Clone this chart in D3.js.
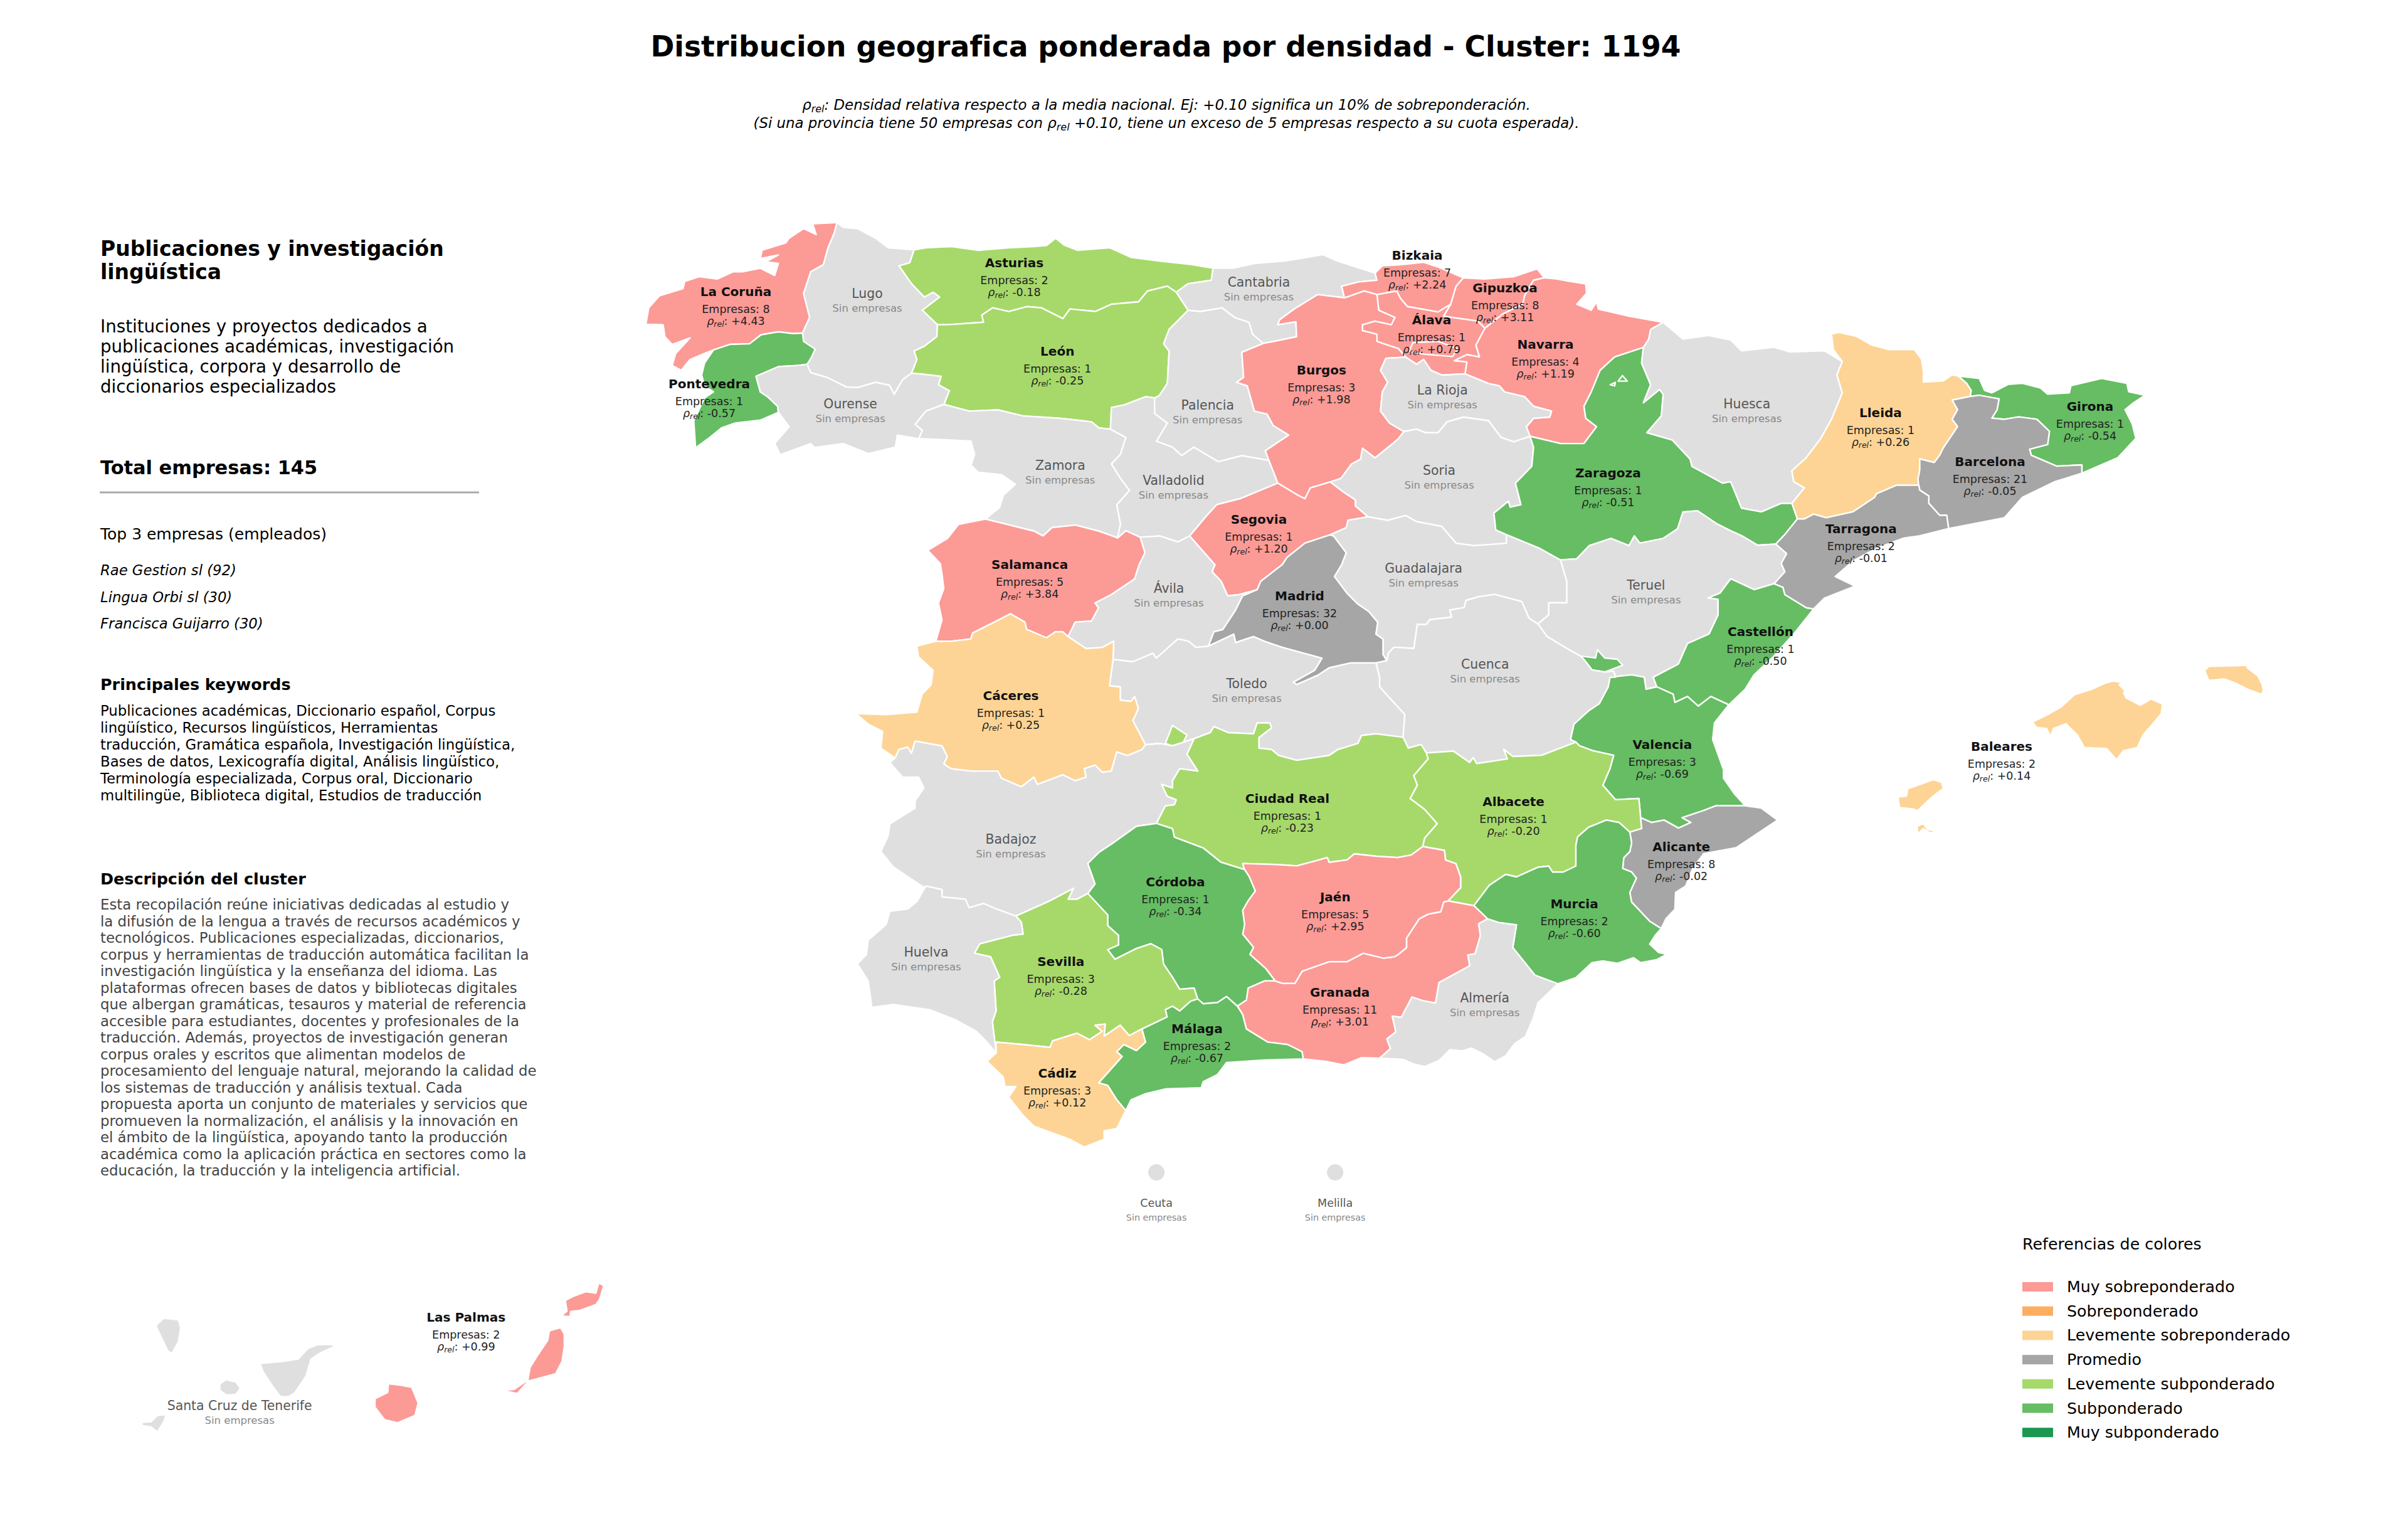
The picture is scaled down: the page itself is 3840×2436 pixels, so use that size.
<!DOCTYPE html>
<html lang="es">
<head>
<meta charset="UTF-8">
<title>Distribucion geografica - Cluster 1194</title>
<style>
  body { margin: 0; background: #fff; }
  svg { display: block; font-family: "DejaVu Sans", sans-serif; }
</style>
</head>
<body>
<script src="https://d3js.org/d3.v7.min.js"></script>
<script>
// province values
const provinces = ["La Coruña","Lugo","Pontevedra","Ourense","Asturias","León","Zamora","Salamanca","Valladolid","Palencia","Cantabria","Bizkaia","Gipuzkoa","Álava","Burgos","Navarra","La Rioja","Soria","Segovia","Ávila","Madrid","Guadalajara","Zaragoza","Huesca","Lleida","Girona","Barcelona","Tarragona","Teruel","Castellón","Valencia","Cuenca","Toledo","Ciudad Real","Badajoz","Cáceres","Albacete","Alicante","Murcia","Almería","Granada","Jaén","Córdoba","Málaga","Sevilla","Cádiz","Huelva","Baleares","Las Palmas","Santa Cruz de Tenerife"];
const companies = [8,null,1,null,2,1,null,5,null,null,null,7,8,1,3,4,null,null,1,null,32,null,1,null,1,1,21,2,null,1,3,null,null,1,null,1,1,8,2,null,11,5,1,2,3,3,null,2,2,null];
const rhoValues = [4.43,null,-0.57,null,-0.18,-0.25,null,3.84,null,null,null,2.24,3.11,0.79,1.98,1.19,null,null,1.20,null,0.00,null,-0.51,null,0.26,-0.54,-0.05,-0.01,null,-0.50,-0.69,null,null,-0.23,null,0.25,-0.20,-0.02,-0.60,null,3.01,2.95,-0.34,-0.67,-0.28,0.12,null,0.14,0.99,null];
// label anchors, lon / lat
const labelLon = [-8.543,-7.437,-8.767,-7.579,-6.200,-5.837,-5.813,-6.070,-4.860,-4.573,-4.142,-2.809,-2.070,-2.688,-3.615,-1.730,-2.597,-2.624,-4.142,-4.899,-3.799,-2.756,-1.203,-0.035,1.090,2.853,2.011,0.926,-0.884,0.080,-0.747,-2.238,-4.244,-3.902,-6.229,-6.229,-1.999,-0.587,-1.487,-2.241,-3.460,-3.499,-4.844,-4.662,-5.808,-5.838,-6.941,2.109,-14.927,-17.184];
const labelLat = [43.211,43.195,42.435,42.265,43.451,42.706,41.750,40.916,41.623,42.253,43.288,43.518,43.239,42.973,42.548,42.766,42.383,41.708,41.296,40.712,40.649,40.883,41.684,42.267,42.191,42.243,41.777,41.213,40.738,40.350,39.400,40.075,39.910,38.944,38.601,39.809,38.919,38.540,38.058,37.270,37.316,38.118,38.244,37.007,37.573,36.634,37.654,39.384,28.902,28.012];

const legendLabels = ["Muy sobreponderado","Sobreponderado","Levemente sobreponderado","Promedio","Levemente subponderado","Subponderado","Muy subponderado"];
const legendColors = ["#fc9a96","#fdae61","#fdd495","#a6a6a6","#a6d96a","#66bd63","#1a9850"];
const rhoBreaks = [-0.75,-0.30,-0.10,0.10,0.30,0.75];

const topCompanies = ["Rae Gestion sl (92)","Lingua Orbi sl (30)","Francisca Guijarro (30)"];
const clusterTitle = ["Publicaciones y investigación","lingüística"];
const clusterSummary = ["Instituciones y proyectos dedicados a","publicaciones académicas, investigación","lingüística, corpora y desarrollo de","diccionarios especializados"];
const keywordLines = ["Publicaciones académicas, Diccionario español, Corpus","lingüístico, Recursos lingüísticos, Herramientas","traducción, Gramática española, Investigación lingüística,","Bases de datos, Lexicografía digital, Análisis lingüístico,","Terminología especializada, Corpus oral, Diccionario","multilingüe, Biblioteca digital, Estudios de traducción"];
const descriptionLines = ["Esta recopilación reúne iniciativas dedicadas al estudio y","la difusión de la lengua a través de recursos académicos y","tecnológicos. Publicaciones especializadas, diccionarios,","corpus y herramientas de traducción automática facilitan la","investigación lingüística y la enseñanza del idioma. Las","plataformas ofrecen bases de datos y bibliotecas digitales","que albergan gramáticas, tesauros y material de referencia","accesible para estudiantes, docentes y profesionales de la","traducción. Además, proyectos de investigación generan","corpus orales y escritos que alimentan modelos de","procesamiento del lenguaje natural, mejorando la calidad de","los sistemas de traducción y análisis textual. Cada","propuesta aporta un conjunto de materiales y servicios que","promueven la normalización, el análisis y la innovación en","el ámbito de la lingüística, apoyando tanto la producción","académica como la aplicación práctica en sectores como la","educación, la traducción y la inteligencia artificial."];

// borders, lon / lat, one list per shared stretch
const coastCoruna = [[-7.691,43.791],[-7.897,43.781],[-7.867,43.690],[-7.973,43.740],[-8.094,43.659],[-8.125,43.619],[-8.322,43.558],[-8.337,43.488],[-8.185,43.518],[-8.291,43.461],[-8.185,43.447],[-8.216,43.346],[-8.337,43.407],[-8.488,43.377],[-8.564,43.377],[-8.700,43.316],[-8.852,43.336],[-8.973,43.296],[-8.988,43.235],[-9.185,43.175],[-9.276,43.074],[-9.300,42.936],[-9.155,42.932],[-9.140,42.831],[-9.079,42.766],[-8.928,42.821],[-9.049,42.690],[-9.079,42.589],[-9.003,42.548],[-8.928,42.639],[-8.806,42.690],[-8.731,42.720]];
const coruPont = [[-8.731,42.720],[-8.594,42.766],[-8.428,42.771],[-8.331,42.847],[-8.185,42.872],[-8.064,42.857],[-7.982,42.861]];
const coruLugo = [[-7.982,42.861],[-7.922,42.993],[-7.973,43.195],[-7.913,43.377],[-7.806,43.437],[-7.767,43.579],[-7.716,43.700],[-7.691,43.791]];
const coastLugo = [[-7.691,43.791],[-7.640,43.750],[-7.519,43.740],[-7.367,43.659],[-7.261,43.579],[-7.043,43.562]];
const lugoAst = [[-7.043,43.562],[-7.079,43.453],[-7.170,43.427],[-7.064,43.276],[-6.958,43.165],[-6.882,43.205],[-6.828,43.165],[-6.973,43.053],[-6.846,42.932]];
const lugoLeon = [[-6.846,42.932],[-6.852,42.831],[-6.958,42.750],[-7.043,42.710],[-7.019,42.639],[-7.064,42.524]];
const lugoOur = [[-7.064,42.524],[-7.140,42.468],[-7.210,42.346],[-7.252,42.423],[-7.367,42.447],[-7.519,42.403],[-7.610,42.407],[-7.776,42.488],[-7.913,42.528],[-7.943,42.599]];
const lugoPont = [[-7.943,42.599],[-7.906,42.659],[-7.876,42.726],[-7.973,42.791],[-7.982,42.861]];
const coastPont = [[-8.731,42.720],[-8.806,42.609],[-8.831,42.508],[-8.806,42.417],[-8.731,42.366],[-8.806,42.316],[-8.897,42.124],[-8.882,41.896],[-8.776,41.973],[-8.664,42.064],[-8.549,42.104],[-8.337,42.129],[-8.185,42.195]];
const pontOur = [[-8.185,42.195],[-8.191,42.245],[-8.276,42.326],[-8.337,42.366],[-8.373,42.498],[-8.185,42.579],[-8.019,42.589],[-7.943,42.599]];
const borderOur = [[-8.185,42.195],[-8.094,42.074],[-8.216,41.932],[-8.170,41.837],[-7.913,41.932],[-7.882,41.898],[-7.640,41.932],[-7.428,41.847],[-7.200,41.902],[-7.185,42.003],[-7.003,41.973]];
const ourZam = [[-7.003,41.973],[-6.973,42.043],[-7.034,42.094],[-6.943,42.205],[-6.791,42.261]];
const ourLeon = [[-6.791,42.261],[-6.746,42.376],[-6.837,42.427],[-6.815,42.498],[-6.988,42.518],[-7.064,42.524]];
const borderZam = [[-7.003,41.973],[-6.761,41.963],[-6.564,41.953],[-6.534,41.841],[-6.564,41.750],[-6.503,41.690],[-6.307,41.670],[-6.191,41.589],[-6.291,41.498],[-6.322,41.397],[-6.443,41.296]];
const zamSal = [[-6.443,41.296],[-6.276,41.255],[-6.034,41.195],[-5.958,41.155],[-5.882,41.225],[-5.685,41.246],[-5.488,41.195],[-5.331,41.138]];
const zamVall = [[-5.331,41.138],[-5.306,41.255],[-5.337,41.417],[-5.230,41.538],[-5.306,41.639],[-5.382,41.760],[-5.307,41.841],[-5.261,41.983],[-5.391,42.053]];
const zamLeon = [[-6.791,42.261],[-6.579,42.205],[-6.337,42.215],[-6.125,42.164],[-5.822,42.145],[-5.640,42.125],[-5.549,42.114],[-5.488,42.063],[-5.391,42.053]];
const salWest = [[-6.443,41.296],[-6.670,41.251],[-6.761,41.134],[-6.928,41.033],[-6.822,40.922],[-6.808,40.833],[-6.793,40.712],[-6.838,40.591],[-6.808,40.449],[-6.860,40.268]];
const salCac = [[-6.860,40.268],[-6.732,40.268],[-6.566,40.288],[-6.550,40.338],[-6.369,40.429],[-6.232,40.500],[-6.111,40.429],[-6.096,40.369],[-5.929,40.298],[-5.853,40.348],[-5.793,40.348],[-5.747,40.308]];
const salAv = [[-5.747,40.308],[-5.687,40.429],[-5.550,40.439],[-5.490,40.550],[-5.520,40.591],[-5.384,40.661],[-5.187,40.793],[-5.150,40.910],[-5.100,41.013],[-5.140,41.144]];
const salVall = [[-5.331,41.138],[-5.261,41.199],[-5.140,41.144]];
const coastAst = [[-7.043,43.562],[-6.943,43.579],[-6.731,43.589],[-6.503,43.558],[-6.246,43.579],[-6.034,43.589],[-5.928,43.599],[-5.852,43.659],[-5.776,43.599],[-5.670,43.558],[-5.397,43.579],[-5.216,43.498],[-4.973,43.467],[-4.706,43.437],[-4.527,43.407]];
const astCant = [[-4.527,43.407],[-4.542,43.306],[-4.739,43.276],[-4.837,43.205]];
const astLeon = [[-6.846,42.932],[-6.761,42.932],[-6.458,42.952],[-6.473,43.013],[-6.382,43.074],[-6.246,43.043],[-6.095,43.084],[-5.973,43.074],[-5.791,42.983],[-5.731,43.064],[-5.518,43.043],[-5.382,43.104],[-5.155,43.124],[-5.079,43.215],[-4.912,43.256],[-4.837,43.205]];
const leonCant = [[-4.837,43.205],[-4.737,43.053]];
const leonPal = [[-4.737,43.053],[-4.897,42.892],[-4.943,42.771],[-4.897,42.710],[-4.912,42.437],[-4.979,42.336],[-5.019,42.316]];
const leonVall = [[-5.019,42.316],[-5.094,42.326],[-5.276,42.256],[-5.382,42.235],[-5.391,42.053]];
const coastCant = [[-4.527,43.407],[-4.360,43.407],[-4.179,43.447],[-3.936,43.467],[-3.800,43.488],[-3.603,43.522],[-3.482,43.467],[-3.164,43.366]];
const cantBiz = [[-3.164,43.366],[-3.148,43.306],[-3.300,43.292],[-3.445,43.255],[-3.421,43.158]];
const cantBur = [[-3.421,43.158],[-3.648,43.185],[-3.845,43.063],[-3.967,42.973],[-3.982,42.932],[-3.830,42.956],[-3.824,42.831],[-3.997,42.795],[-4.103,42.775]];
const cantPal = [[-4.737,43.053],[-4.633,43.043],[-4.451,43.074],[-4.345,42.993],[-4.224,42.952],[-4.194,42.851],[-4.103,42.775]];
const burPal = [[-4.103,42.775],[-4.285,42.700],[-4.270,42.488],[-4.330,42.447],[-4.239,42.417],[-4.179,42.205],[-4.073,42.180],[-4.021,42.084],[-3.891,42.003],[-4.088,41.871],[-4.057,41.791]];
const palVall = [[-5.019,42.316],[-5.019,42.185],[-4.912,42.104],[-5.003,41.952],[-4.867,41.902],[-4.791,41.831],[-4.690,41.902],[-4.588,41.841],[-4.482,41.780],[-4.285,41.831],[-4.057,41.791]];
const burVall = [[-4.057,41.791],[-3.982,41.599]];
const burSeg = [[-3.982,41.599],[-3.815,41.498],[-3.754,41.468],[-3.709,41.558],[-3.542,41.609]];
const burSoria = [[-2.921,42.033],[-2.967,41.973],[-3.027,41.922],[-3.164,41.811],[-3.270,41.892],[-3.285,41.801],[-3.361,41.760],[-3.451,41.639],[-3.542,41.609]];
const burRioja = [[-2.906,42.659],[-3.073,42.649],[-3.118,42.548],[-3.058,42.447],[-3.103,42.366],[-3.118,42.205],[-3.042,42.104],[-2.921,42.033]];
const alaBur = [[-3.148,43.185],[-3.133,43.053],[-2.997,42.993],[-3.027,42.932],[-3.164,42.962],[-3.270,42.932],[-3.270,42.882],[-3.148,42.851],[-3.148,42.791],[-2.967,42.730],[-2.906,42.659]];
const bizBur = [[-3.421,43.158],[-3.255,43.215],[-3.148,43.185]];
const coastBiz = [[-3.164,43.366],[-3.103,43.427],[-2.936,43.437],[-2.755,43.457],[-2.633,43.417],[-2.421,43.326]];
const bizGip = [[-2.421,43.326],[-2.482,43.255],[-2.527,43.104]];
const bizAla = [[-2.527,43.104],[-2.633,43.039],[-2.891,43.084],[-2.951,43.154],[-2.982,43.215],[-3.148,43.185]];
const coastGip = [[-2.421,43.326],[-2.239,43.316],[-1.997,43.336],[-1.800,43.401],[-1.739,43.326]];
const gipNav = [[-1.739,43.326],[-1.830,43.306],[-1.906,43.175],[-1.921,43.104],[-2.088,43.023],[-2.239,42.902]];
const alaGip = [[-2.239,42.902],[-2.300,42.962],[-2.588,43.003],[-2.527,43.104]];
const alaNav = [[-2.406,42.518],[-2.391,42.619],[-2.497,42.629],[-2.391,42.680],[-2.285,42.660],[-2.315,42.760],[-2.239,42.902]];
const rioAla = [[-2.906,42.659],[-2.815,42.599],[-2.755,42.639],[-2.694,42.548],[-2.603,42.508],[-2.406,42.518]];
const navRioja = [[-2.406,42.518],[-2.209,42.437],[-2.118,42.417],[-2.073,42.366],[-1.906,42.326],[-1.830,42.245],[-1.679,42.205],[-1.694,42.154],[-1.830,42.144],[-1.891,42.073],[-1.860,41.993]];
const rioSoria = [[-2.921,42.033],[-2.815,42.053],[-2.739,42.023],[-2.633,42.023],[-2.558,42.114],[-2.421,42.154],[-2.209,42.124],[-2.103,41.983],[-1.997,41.946],[-1.860,41.993]];
const navNorth = [[-1.739,43.326],[-1.633,43.316],[-1.527,43.296],[-1.391,43.275],[-1.385,43.195],[-1.467,43.104],[-1.345,43.053],[-1.300,43.124],[-1.285,43.063],[-1.027,43.003],[-0.739,42.952]];
const navHues = [[-0.739,42.952],[-0.845,42.892],[-0.860,42.811],[-0.906,42.740]];
const navZar = [[-0.906,42.740],[-1.148,42.660],[-1.270,42.548],[-1.345,42.366],[-1.406,42.245],[-1.391,42.144],[-1.300,42.074],[-1.406,41.932],[-1.603,41.932],[-1.860,41.993]];
const soriaZar = [[-1.860,41.993],[-1.830,41.902],[-1.845,41.740],[-1.982,41.599],[-1.936,41.417],[-2.027,41.397],[-2.042,41.447],[-2.164,41.346],[-2.148,41.205],[-2.058,41.165]];
const soriaSeg = [[-3.542,41.609],[-3.436,41.528],[-3.330,41.457],[-3.330,41.407],[-3.224,41.316]];
const soriaGua = [[-3.224,41.316],[-3.058,41.286],[-2.906,41.326],[-2.815,41.275],[-2.603,41.235],[-2.482,41.093],[-2.330,41.073],[-2.058,41.093],[-2.058,41.165]];
const zarGua = [[-2.058,41.165],[-1.785,41.053],[-1.603,40.952]];
const segGua = [[-3.224,41.316],[-3.391,41.286],[-3.406,41.225],[-3.542,41.164]];
const segMad = [[-3.542,41.164],[-3.754,41.094],[-3.906,40.973],[-3.944,40.914],[-4.126,40.773],[-4.156,40.702]];
const segAv = [[-4.156,40.702],[-4.308,40.661],[-4.405,40.651],[-4.459,40.773],[-4.535,40.853],[-4.512,40.912],[-4.618,41.033],[-4.724,41.154]];
const segVall = [[-4.724,41.154],[-4.588,41.316],[-4.497,41.417],[-4.300,41.468],[-3.982,41.599]];
const vallAv = [[-4.724,41.154],[-4.822,41.104],[-4.973,41.154],[-5.140,41.144]];
const avMad = [[-4.156,40.702],[-4.278,40.651],[-4.338,40.530],[-4.444,40.368],[-4.520,40.348],[-4.566,40.227]];
const avTol = [[-4.566,40.227],[-4.672,40.217],[-4.732,40.268],[-4.823,40.288],[-5.005,40.126],[-5.035,40.167],[-5.202,40.096],[-5.369,40.116]];
const cacAv = [[-5.369,40.116],[-5.363,40.268],[-5.460,40.217],[-5.596,40.207],[-5.747,40.308]];
const cacTol = [[-4.975,39.409],[-5.096,39.399],[-5.202,39.601],[-5.156,39.702],[-5.187,39.803],[-5.217,39.763],[-5.308,39.773],[-5.308,39.884],[-5.399,39.894],[-5.369,40.116]];
const cacBad = [[-7.202,39.288],[-7.172,39.358],[-7.096,39.379],[-7.066,39.328],[-7.035,39.429],[-6.808,39.389],[-6.763,39.298],[-6.793,39.237],[-6.732,39.197],[-6.566,39.177],[-6.338,39.177],[-6.308,39.116],[-6.141,39.045],[-6.035,39.126],[-6.005,39.065],[-5.793,39.146],[-5.687,39.096],[-5.596,39.126],[-5.611,39.197],[-5.520,39.227],[-5.459,39.167],[-5.384,39.177],[-5.338,39.338],[-5.247,39.308],[-5.126,39.358],[-5.096,39.399],[-4.975,39.409]];
const cacWest = [[-6.860,40.268],[-7.020,40.227],[-7.005,40.136],[-6.884,40.025],[-6.899,39.904],[-6.975,39.823],[-7.020,39.672],[-7.278,39.651],[-7.535,39.661],[-7.429,39.571],[-7.308,39.510],[-7.323,39.369],[-7.202,39.288]];
const madTol = [[-4.566,40.227],[-4.353,40.328],[-4.338,40.257],[-4.187,40.308],[-4.096,40.268],[-3.944,40.217],[-3.611,40.126],[-3.672,40.025],[-3.853,39.924],[-3.823,39.904],[-3.641,39.985],[-3.550,40.045],[-3.369,40.086],[-3.156,40.086]];
const madGua = [[-3.065,40.106],[-3.096,40.157],[-3.096,40.288],[-3.156,40.328],[-3.141,40.429],[-3.217,40.520],[-3.308,40.581],[-3.399,40.672],[-3.505,40.813],[-3.444,40.914],[-3.406,41.013],[-3.512,41.154],[-3.542,41.164]];
const madCue = [[-3.156,40.086],[-3.065,40.106]];
const tolCue = [[-3.156,40.086],[-3.126,39.965],[-3.126,39.885],[-3.035,39.784],[-2.914,39.653],[-2.929,39.461]];
const tolCr = [[-2.929,39.461],[-3.156,39.490],[-3.278,39.476],[-3.308,39.409],[-3.475,39.358],[-3.550,39.308],[-3.823,39.267],[-3.975,39.308],[-4.035,39.358],[-4.141,39.369],[-4.141,39.459],[-4.035,39.540],[-4.050,39.581],[-4.156,39.581],[-4.187,39.490],[-4.399,39.500],[-4.520,39.550],[-4.550,39.500],[-4.687,39.449]];
const tolBad = [[-4.975,39.409],[-4.869,39.389],[-4.778,39.419],[-4.687,39.449]];
const guaCue = [[-3.065,40.106],[-3.050,40.170],[-3.005,40.218],[-2.838,40.208],[-2.808,40.410],[-2.732,40.410],[-2.702,40.451],[-2.520,40.471],[-2.535,40.531],[-2.414,40.552],[-2.399,40.612],[-2.293,40.643],[-2.156,40.663],[-1.929,40.602],[-1.868,40.461],[-1.793,40.414]];
const guaTer = [[-1.793,40.414],[-1.702,40.491],[-1.702,40.592],[-1.550,40.592],[-1.550,40.774],[-1.603,40.952]];
const zarTer = [[-1.603,40.952],[-1.467,40.962],[-1.361,41.073],[-1.179,41.134],[-1.027,41.073],[-0.982,41.154],[-0.936,41.094],[-0.739,41.134],[-0.618,41.215],[-0.573,41.356],[-0.451,41.366],[-0.285,41.255],[-0.170,41.197],[-0.079,41.156],[0.056,41.076],[0.208,41.086]];
const zarTar = [[0.208,41.086],[0.284,41.166],[0.390,41.298]];
const zarLle = [[0.390,41.298],[0.344,41.429]];
const zarHues = [[-0.906,42.740],[-0.921,42.609],[-0.845,42.427],[-0.906,42.275],[-0.770,42.387],[-0.739,42.346],[-0.755,42.164],[-0.876,42.023],[-0.663,41.962],[-0.512,41.801],[-0.497,41.740],[-0.239,41.599],[-0.171,41.611],[-0.080,41.389],[0.087,41.358],[0.253,41.429],[0.344,41.429]];
const huesNorth = [[-0.739,42.952],[-0.573,42.811],[-0.360,42.841],[-0.171,42.803],[-0.080,42.712],[0.193,42.742],[0.329,42.702],[0.617,42.712],[0.768,42.621]];
const huesLle = [[0.768,42.621],[0.723,42.510],[0.768,42.358],[0.677,42.136],[0.587,41.975],[0.465,41.813],[0.344,41.702],[0.359,41.611],[0.450,41.560],[0.344,41.429]];
const lleNorth = [[0.768,42.621],[0.693,42.722],[0.677,42.853],[0.738,42.867],[0.890,42.833],[1.011,42.762],[1.162,42.722],[1.375,42.722],[1.435,42.641],[1.450,42.540],[1.450,42.449],[1.617,42.459],[1.693,42.510],[1.744,42.500]];
const lleGir = [[1.744,42.500],[1.814,42.439],[1.853,42.379],[1.844,42.328]];
const lleBar = [[1.844,42.328],[1.693,42.298],[1.738,42.217],[1.693,42.136],[1.738,42.075],[1.678,41.985],[1.617,41.894],[1.587,41.833],[1.541,41.772],[1.420,41.803],[1.420,41.712],[1.405,41.631],[1.411,41.581]];
const lleTar = [[1.411,41.581],[1.223,41.581],[1.056,41.510],[1.041,41.480],[0.859,41.358],[0.632,41.308],[0.526,41.338],[0.450,41.298],[0.390,41.298]];
const coastGir = [[1.744,42.500],[1.920,42.480],[1.965,42.379],[2.026,42.358],[2.162,42.429],[2.284,42.439],[2.435,42.399],[2.496,42.348],[2.678,42.358],[2.693,42.419],[2.950,42.480],[3.162,42.439],[3.178,42.368],[3.314,42.338],[3.208,42.267],[3.147,42.217],[3.208,42.096],[3.238,41.975],[3.087,41.813],[2.784,41.682]];
const girBar = [[2.784,41.682],[2.784,41.752],[2.572,41.742],[2.359,41.833],[2.344,41.884],[2.496,41.924],[2.511,42.035],[2.405,42.136],[2.253,42.156],[2.132,42.136],[2.026,42.146],[2.071,42.217],[2.087,42.308],[1.920,42.338],[1.844,42.328]];
const coastBar = [[2.784,41.682],[2.556,41.611],[2.284,41.480],[2.132,41.308],[1.662,41.217]];
const barTar = [[1.662,41.217],[1.647,41.328],[1.587,41.328],[1.496,41.429],[1.496,41.490],[1.420,41.540],[1.411,41.581]];
const coastTar = [[1.662,41.217],[1.420,41.156],[1.284,41.136],[1.041,41.045],[0.859,40.944],[0.708,40.813],[0.875,40.732],[0.617,40.631],[0.526,40.540]];
const tarCas = [[0.526,40.540],[0.465,40.550],[0.284,40.661],[0.268,40.722],[0.193,40.752]];
const tarTer = [[0.193,40.752],[0.284,40.853],[0.253,40.924],[0.299,41.005],[0.208,41.086]];
const coastCas = [[0.526,40.540],[0.359,40.330],[0.177,40.128],[0.025,39.986],[-0.050,39.865],[-0.187,39.734]];
const terCas = [[0.193,40.752],[0.026,40.703],[-0.171,40.794],[-0.262,40.673],[-0.362,40.633],[-0.277,40.622],[-0.277,40.491],[-0.353,40.330],[-0.535,40.249],[-0.611,40.077],[-0.823,39.966],[-0.793,39.885]];
const casVal = [[-0.187,39.734],[-0.338,39.804],[-0.444,39.723],[-0.535,39.804],[-0.641,39.754],[-0.656,39.824],[-0.793,39.885]];
const terVal = [[-0.793,39.885],[-0.884,39.865],[-0.899,39.966],[-1.005,39.986],[-1.187,39.966]];
const terCue = [[-1.793,40.414],[-1.717,40.309],[-1.550,40.208],[-1.435,40.144],[-1.399,40.107],[-1.338,40.027],[-1.232,40.010],[-1.156,40.016],[-1.141,39.966],[-1.187,39.966]];
const cueVal = [[-1.187,39.966],[-1.202,39.885],[-1.277,39.744],[-1.368,39.683],[-1.490,39.572],[-1.520,39.441],[-1.474,39.420]];
const albCue = [[-1.474,39.420],[-1.762,39.309],[-2.005,39.299],[-2.081,39.360],[-2.050,39.279],[-2.308,39.239],[-2.338,39.289],[-2.368,39.249],[-2.505,39.344],[-2.732,39.329]];
const crCue = [[-2.732,39.329],[-2.777,39.400],[-2.884,39.370],[-2.929,39.461]];
const albCr = [[-2.732,39.329],[-2.717,39.279],[-2.838,39.138],[-2.808,39.057],[-2.868,38.946],[-2.747,38.855],[-2.641,38.734],[-2.747,38.612],[-2.762,38.542]];
const valAlb = [[-1.474,39.420],[-1.444,39.390],[-1.338,39.350],[-1.156,39.309],[-1.187,39.198],[-1.247,39.057],[-1.141,38.936],[-0.944,38.946],[-0.929,38.784]];
const albAli = [[-0.929,38.784],[-0.920,38.693],[-1.020,38.663]];
const coastVal = [[-0.187,39.734],[-0.308,39.582],[-0.323,39.441],[-0.232,39.188],[-0.232,39.117],[-0.141,38.986],[-0.050,38.885]];
const valAli = [[-0.050,38.885],[-0.293,38.885],[-0.399,38.845],[-0.580,38.784],[-0.505,38.744],[-0.611,38.697],[-0.732,38.764],[-0.838,38.744],[-0.929,38.784]];
const coastAli = [[-0.050,38.885],[0.086,38.865],[0.223,38.764],[-0.005,38.612],[-0.126,38.532],[-0.399,38.481],[-0.490,38.360],[-0.550,38.210],[-0.635,38.155],[-0.641,38.014],[-0.717,37.933],[-0.756,37.852]];
const aliMur = [[-0.756,37.852],[-0.853,37.913],[-1.005,38.074],[-1.020,38.155],[-0.965,38.276],[-1.005,38.327],[-1.080,38.357],[-1.071,38.448],[-1.020,38.499],[-1.005,38.572],[-1.020,38.663]];
const murAlb = [[-1.020,38.663],[-1.111,38.744],[-1.217,38.764],[-1.368,38.703],[-1.459,38.623],[-1.474,38.552],[-1.474,38.377],[-1.580,38.327],[-1.671,38.327],[-1.702,38.377],[-1.793,38.367],[-1.974,38.286],[-2.065,38.307],[-2.202,38.216],[-2.332,38.044]];
const murGra = [[-2.332,38.044],[-2.217,37.933]];
const murAlm = [[-2.217,37.933],[-2.126,37.903],[-1.974,37.882],[-2.005,37.691],[-1.817,37.458],[-1.626,37.387]];
const coastMur = [[-0.756,37.852],[-0.808,37.792],[-0.853,37.721],[-0.777,37.650],[-0.708,37.636],[-0.793,37.590],[-0.929,37.565],[-0.990,37.606],[-1.126,37.559],[-1.247,37.579],[-1.338,37.565],[-1.474,37.438],[-1.626,37.387]];
const coastAlm = [[-1.626,37.387],[-1.793,37.226],[-1.838,37.084],[-1.899,36.943],[-1.990,36.882],[-2.065,36.781],[-2.156,36.731],[-2.262,36.802],[-2.353,36.846],[-2.429,36.822],[-2.535,36.832],[-2.626,36.741],[-2.747,36.691],[-2.838,36.711],[-2.929,36.751],[-3.126,36.761]];
const almGra = [[-2.217,37.933],[-2.293,37.893],[-2.278,37.792],[-2.323,37.640],[-2.384,37.630],[-2.368,37.539],[-2.459,37.489],[-2.626,37.398],[-2.656,37.226],[-2.762,37.246],[-2.853,37.276],[-2.944,37.105],[-3.020,37.115],[-2.990,36.983],[-3.065,36.923],[-3.035,36.842],[-3.126,36.761]];
const coastGra = [[-3.126,36.761],[-3.278,36.765],[-3.429,36.704],[-3.581,36.735],[-3.769,36.755]];
const graMal = [[-3.769,36.755],[-3.778,36.815],[-3.899,36.876],[-4.066,36.896],[-4.247,37.007],[-4.278,37.128],[-4.323,37.199]];
const graCor = [[-4.323,37.199],[-4.247,37.250],[-4.232,37.351],[-4.096,37.411],[-4.005,37.411]];
const graJae = [[-4.005,37.411],[-3.944,37.391],[-3.838,37.391],[-3.778,37.492],[-3.550,37.573],[-3.399,37.573],[-3.263,37.644],[-3.096,37.603],[-3.005,37.613],[-2.974,37.630],[-2.899,37.691],[-2.899,37.771],[-2.793,37.933],[-2.717,37.973],[-2.611,37.993],[-2.587,38.074],[-2.550,38.084]];
const albGra = [[-2.550,38.084],[-2.332,38.044]];
const albJae = [[-2.550,38.084],[-2.444,38.196],[-2.444,38.286],[-2.484,38.398],[-2.571,38.428],[-2.580,38.509],[-2.762,38.542]];
const crBad = [[-4.687,39.449],[-4.747,39.318],[-4.656,39.177],[-4.808,39.197],[-4.869,39.096],[-4.869,39.035],[-4.960,39.065],[-4.914,38.965],[-4.838,38.934],[-4.853,38.894],[-4.929,38.884],[-5.005,38.736]];
const crCor = [[-5.005,38.736],[-4.869,38.692],[-4.853,38.621],[-4.611,38.530],[-4.460,38.409],[-4.262,38.348]];
const crJae = [[-4.262,38.348],[-4.278,38.399],[-3.975,38.389],[-3.823,38.379],[-3.672,38.419],[-3.566,38.449],[-3.550,38.409],[-3.399,38.429],[-3.338,38.480],[-3.156,38.460],[-2.975,38.449],[-2.860,38.470],[-2.762,38.542]];
const corJae = [[-4.262,38.348],[-4.223,38.288],[-4.172,38.167],[-4.232,38.086],[-4.278,38.005],[-4.262,37.884],[-4.278,37.805],[-4.187,37.694],[-4.217,37.634],[-4.081,37.512],[-4.005,37.411]];
const corBad = [[-5.005,38.736],[-5.172,38.712],[-5.369,38.571],[-5.490,38.490],[-5.581,38.399],[-5.520,38.227],[-5.581,38.146]];
const corSev = [[-5.581,38.146],[-5.414,37.967],[-5.414,37.876],[-5.323,37.795],[-5.323,37.714],[-5.414,37.674],[-5.353,37.593],[-5.172,37.684],[-5.050,37.724],[-4.959,37.674],[-4.944,37.553],[-4.869,37.442],[-4.808,37.341],[-4.687,37.351],[-4.657,37.260]];
const corMal = [[-4.657,37.260],[-4.611,37.219],[-4.490,37.229],[-4.414,37.280],[-4.323,37.199]];
const sevMal = [[-4.657,37.260],[-4.717,37.240],[-4.808,37.159],[-4.869,37.199],[-4.929,37.169],[-4.914,37.108],[-5.126,37.007]];
const malCad = [[-5.126,37.007],[-5.096,36.896],[-5.172,36.825],[-5.278,36.876],[-5.338,36.815],[-5.293,36.775],[-5.490,36.553],[-5.414,36.532],[-5.338,36.411],[-5.262,36.320]];
const coastMal = [[-5.262,36.320],[-5.217,36.411],[-5.096,36.462],[-4.929,36.502],[-4.626,36.512],[-4.611,36.563],[-4.490,36.623],[-4.414,36.724],[-4.096,36.745],[-3.769,36.755]];
const coastCad = [[-5.262,36.320],[-5.338,36.169],[-5.444,36.149],[-5.444,36.078],[-5.611,36.013],[-5.732,36.078],[-6.035,36.189],[-6.126,36.280],[-6.247,36.432],[-6.187,36.522],[-6.278,36.522],[-6.293,36.603],[-6.429,36.734],[-6.353,36.805]];
const cadSev = [[-6.353,36.805],[-6.353,36.896],[-6.126,36.876],[-5.899,36.852],[-5.878,36.906],[-5.672,36.971],[-5.566,36.916],[-5.460,36.987],[-5.520,37.038],[-5.435,37.048],[-5.444,36.947],[-5.308,37.038],[-5.232,36.951],[-5.126,37.007]];
const sevHue = [[-6.353,36.805],[-6.384,37.068],[-6.353,37.159],[-6.369,37.411],[-6.323,37.442],[-6.399,37.613],[-6.535,37.644],[-6.490,37.724],[-6.217,37.795],[-6.126,37.805],[-6.141,37.906],[-6.187,37.957]];
const sevBad = [[-6.187,37.957],[-5.914,38.078],[-5.702,38.189],[-5.747,38.098],[-5.672,38.098],[-5.581,38.146]];
const hueBad = [[-6.187,37.957],[-6.353,38.017],[-6.459,38.062],[-6.581,38.027],[-6.611,38.098],[-6.808,38.118],[-6.808,38.179],[-6.944,38.209]];
const coastHue = [[-6.944,38.209],[-7.020,38.078],[-7.096,38.017],[-7.247,37.997],[-7.278,37.886],[-7.429,37.755],[-7.444,37.634],[-7.520,37.553],[-7.429,37.411],[-7.399,37.189],[-7.217,37.213],[-6.914,37.169],[-6.702,37.088],[-6.520,36.987],[-6.429,36.896],[-6.353,36.805]];
const badWest = [[-7.202,39.288],[-7.247,39.247],[-7.141,39.126],[-7.005,39.126],[-6.960,39.035],[-7.035,38.924],[-7.035,38.864],[-7.247,38.732],[-7.262,38.631],[-7.323,38.500],[-7.217,38.369],[-6.960,38.197],[-6.944,38.209]];

// enclaves and islands
const trevino = [[-2.846,42.781],[-2.876,42.710],[-2.755,42.684],[-2.512,42.664],[-2.467,42.730],[-2.633,42.791]];
const ademuz = [[-1.435,40.144],[-1.308,40.128],[-1.293,40.198],[-1.232,40.128],[-1.126,40.117],[-1.081,40.067],[-1.232,40.010],[-1.338,40.027],[-1.399,40.107]];
const anchuras = [[-4.869,39.560],[-4.747,39.480],[-4.778,39.419],[-4.869,39.389],[-4.929,39.409]];
const petilla = [[-1.118,42.457],[-1.082,42.504],[-1.042,42.457]];
const petillaSmall = [[-1.185,42.427],[-1.142,42.447],[-1.148,42.417]];
const mallorca = [[2.368,39.588],[2.509,39.659],[2.604,39.712],[2.721,39.818],[2.863,39.863],[2.981,39.916],[3.051,39.934],[3.122,39.921],[3.181,39.951],[3.098,39.904],[3.145,39.854],[3.197,39.872],[3.134,39.836],[3.157,39.792],[3.275,39.730],[3.369,39.783],[3.463,39.739],[3.452,39.659],[3.393,39.588],[3.299,39.481],[3.251,39.375],[3.134,39.348],[3.075,39.272],[2.992,39.366],[2.804,39.375],[2.745,39.481],[2.651,39.574],[2.545,39.535],[2.521,39.469],[2.486,39.535],[2.403,39.544]];
const menorca = [[3.817,40.022],[3.852,40.058],[4.088,40.063],[4.166,40.067],[4.182,40.040],[4.264,39.978],[4.300,39.907],[4.312,39.854],[4.295,39.822],[4.182,39.863],[4.076,39.916],[3.982,39.951],[3.852,39.939]];
const ibiza = [[1.237,38.958],[1.308,38.967],[1.320,39.029],[1.426,39.065],[1.532,39.105],[1.602,39.082],[1.619,39.029],[1.555,38.985],[1.485,38.923],[1.402,38.843],[1.367,38.857],[1.249,38.870]];
const formentera = [[1.398,38.710],[1.449,38.737],[1.485,38.687],[1.579,38.666],[1.508,38.657],[1.449,38.692],[1.402,38.648]];
const laPalma = [[-17.940,28.892],[-17.796,28.877],[-17.771,28.797],[-17.796,28.649],[-17.860,28.535],[-17.902,28.565],[-18.020,28.818]];
const tenerife = [[-16.983,28.434],[-16.903,28.442],[-16.760,28.455],[-16.601,28.480],[-16.505,28.586],[-16.409,28.624],[-16.250,28.628],[-16.250,28.603],[-16.377,28.543],[-16.473,28.480],[-16.521,28.311],[-16.632,28.143],[-16.696,28.100],[-16.776,28.100],[-16.856,28.206],[-16.951,28.354]];
const gomera = [[-17.382,28.227],[-17.318,28.273],[-17.222,28.248],[-17.175,28.185],[-17.222,28.122],[-17.318,28.117],[-17.382,28.164]];
const hierro = [[-18.157,27.841],[-18.067,27.847],[-18.004,27.911],[-17.918,27.921],[-17.940,27.847],[-18.004,27.746],[-18.067,27.795],[-18.157,27.809]];
const granCanaria = [[-15.835,28.079],[-15.708,28.143],[-15.701,28.231],[-15.580,28.217],[-15.469,28.195],[-15.405,28.037],[-15.437,27.911],[-15.612,27.837],[-15.739,27.868],[-15.835,27.995]];
const fuerteventura = [[-14.097,28.765],[-13.986,28.797],[-13.948,28.733],[-13.948,28.607],[-13.970,28.459],[-14.034,28.332],[-14.305,28.259],[-14.416,28.132],[-14.566,28.164],[-14.448,28.174],[-14.311,28.269],[-14.289,28.396],[-14.225,28.501],[-14.113,28.670]];
const lanzarote = [[-13.980,28.913],[-13.922,28.965],[-13.938,29.071],[-13.858,29.113],[-13.731,29.160],[-13.635,29.145],[-13.603,29.250],[-13.555,29.219],[-13.597,29.081],[-13.635,29.029],[-13.794,28.970],[-13.884,28.961],[-13.890,28.908]];
const graciosa = [[-13.641,29.265],[-13.619,29.307],[-13.619,29.271]];

// Ceuta and Melilla are drawn as dots below the peninsula
const cityNames = ["Ceuta","Melilla"];
const cityLon = [-5.004,-3.50];
const cityLat = [35.80,35.80];

// each province: shared borders in ring order
const provinceBorders = {
  "La Coruña": [coastCoruna,coruPont,coruLugo],
  "Lugo": [coastLugo,lugoAst,lugoLeon,lugoOur,lugoPont,coruLugo],
  "Pontevedra": [coastPont,pontOur,lugoPont,coruPont],
  "Ourense": [pontOur,lugoOur,ourLeon,ourZam,borderOur],
  "Asturias": [coastAst,astCant,astLeon,lugoAst],
  "León": [lugoLeon,ourLeon,zamLeon,leonVall,leonPal,leonCant,astLeon],
  "Zamora": [borderZam,zamSal,zamVall,zamLeon,ourZam],
  "Salamanca": [salWest,salCac,salAv,salVall,zamSal],
  "Valladolid": [zamVall,leonVall,palVall,burVall,segVall,vallAv,salVall],
  "Palencia": [leonPal,cantPal,burPal,palVall],
  "Cantabria": [coastCant,cantBiz,cantBur,cantPal,leonCant,astCant],
  "Burgos": [cantBur,burPal,burVall,burSeg,burSoria,burRioja,alaBur,bizBur],
  "Bizkaia": [coastBiz,bizGip,bizAla,bizBur,cantBiz],
  "Gipuzkoa": [coastGip,gipNav,alaGip,bizGip],
  "Álava": [bizAla,alaBur,rioAla,alaNav,alaGip],
  "Navarra": [navNorth,navHues,navZar,navRioja,alaNav,gipNav],
  "La Rioja": [burRioja,rioSoria,navRioja,rioAla],
  "Soria": [burSoria,soriaSeg,soriaGua,soriaZar,rioSoria],
  "Segovia": [burSeg,segVall,segAv,segMad,segGua,soriaSeg],
  "Ávila": [vallAv,segAv,avMad,avTol,cacAv,salAv],
  "Madrid": [segMad,avMad,madTol,madCue,madGua],
  "Guadalajara": [soriaGua,zarGua,guaTer,guaCue,madGua,segGua],
  "Zaragoza": [zarHues,zarLle,zarTar,zarTer,zarGua,soriaZar,navZar],
  "Huesca": [huesNorth,huesLle,zarHues,navHues],
  "Lleida": [lleNorth,lleGir,lleBar,lleTar,zarLle,huesLle],
  "Girona": [coastGir,girBar,lleGir],
  "Barcelona": [lleBar,barTar,coastBar,girBar],
  "Tarragona": [lleTar,zarTar,tarTer,tarCas,coastTar,barTar],
  "Teruel": [zarTer,guaTer,terCue,terVal,terCas,tarTer],
  "Castellón": [terCas,tarCas,coastCas,casVal],
  "Valencia": [casVal,terVal,cueVal,valAlb,valAli,coastVal],
  "Cuenca": [terCue,cueVal,albCue,crCue,tolCue,madCue,guaCue],
  "Toledo": [avTol,cacTol,tolBad,tolCr,tolCue,madTol],
  "Ciudad Real": [tolCr,crBad,crCor,crJae,albCr,crCue],
  "Badajoz": [cacBad,tolBad,crBad,corBad,sevBad,hueBad,badWest],
  "Cáceres": [cacWest,cacBad,cacTol,cacAv,salCac],
  "Albacete": [valAlb,albAli,murAlb,albGra,albJae,albCr,albCue],
  "Alicante": [valAli,coastAli,aliMur,albAli],
  "Murcia": [aliMur,murAlb,murGra,murAlm,coastMur],
  "Almería": [murAlm,coastAlm,almGra],
  "Granada": [murGra,almGra,coastGra,graMal,graCor,graJae,albGra],
  "Jaén": [graJae,albJae,crJae,corJae],
  "Córdoba": [crCor,corJae,graCor,corMal,corSev,corBad],
  "Málaga": [corMal,graMal,coastMal,malCad,sevMal],
  "Sevilla": [sevBad,sevHue,cadSev,sevMal,corSev],
  "Cádiz": [coastCad,cadSev,malCad],
  "Huelva": [hueBad,coastHue,sevHue]
};
// rings that stand on their own
const extraRings = {
  "Burgos": [trevino],
  "Zaragoza": [petilla,petillaSmall],
  "Valencia": [ademuz],
  "Ciudad Real": [anchuras],
  "Baleares": [mallorca,menorca,ibiza,formentera],
  "Las Palmas": [granCanaria,fuerteventura,lanzarote,graciosa],
  "Santa Cruz de Tenerife": [laPalma,tenerife,gomera,hierro]
};
const insetProvinces = ["Las Palmas","Santa Cruz de Tenerife"];

const width = 3840, height = 2436;
const svg = d3.select("body").append("svg").attr("width", width).attr("height", height).attr("viewBox", `0 0 ${width} ${height}`);

// plate carree for the peninsula and a smaller one for the Canaries
function flatPath(sx, sy) {
  return d3.geoPath(d3.geoTransform({ point(x, y) { this.stream.point(sx(x), sy(y)); } }));
}
const lonMain = d3.scaleLinear([-9.3, 3.32], [1030, 3421.5]);
const latMain = d3.scaleLinear([43.79, 36.0], [355, 1831.2]);
const lonInset = d3.scaleLinear([-18.16, -13.555], [226, 962.8]);
const latInset = d3.scaleLinear([29.25, 27.75], [2045, 2282]);
const pathMain = flatPath(lonMain, latMain);
const pathInset = flatPath(lonInset, latInset);

// join borders into one closed ring, flipping any that run the other way
function chainRing(borders) {
  const gap = (a, b) => Math.hypot(a[0] - b[0], a[1] - b[1]);
  let ring = [];
  borders.forEach((border, i) => {
    let part = border;
    if (i === 0) {
      const next = borders[1];
      const endGap = Math.min(gap(part[part.length - 1], next[0]), gap(part[part.length - 1], next[next.length - 1]));
      const startGap = Math.min(gap(part[0], next[0]), gap(part[0], next[next.length - 1]));
      if (startGap < endGap) part = part.slice().reverse();
    } else {
      const last = ring[ring.length - 1];
      if (gap(last, part[part.length - 1]) < gap(last, part[0])) part = part.slice().reverse();
    }
    ring = ring.concat(i === 0 ? part : part.slice(1));
  });
  ring.push(ring[0]);
  return ring;
}
const closeRing = r => r.concat([r[0]]);

const fillScale = d3.scaleThreshold(rhoBreaks, legendColors.slice().reverse());
const noDataFill = "#dfdfdf";
const formatRho = v => d3.format("+.2f")(v).replace("−", "-");

const features = provinces.map((name, i) => {
  const rings = [];
  if (provinceBorders[name]) rings.push(chainRing(provinceBorders[name]));
  (extraRings[name] || []).forEach(r => rings.push(closeRing(r)));
  return {
    type: "Feature",
    properties: { name, companies: companies[i], rho: rhoValues[i], lon: labelLon[i], lat: labelLat[i], inset: insetProvinces.includes(name) },
    geometry: { type: "MultiPolygon", coordinates: rings.map(r => [r]) }
  };
});

svg.append("g").selectAll("path").data(features).join("path")
  .attr("d", d => (d.properties.inset ? pathInset : pathMain)(d))
  .attr("fill", d => d.properties.rho === null ? noDataFill : fillScale(d.properties.rho))
  .attr("stroke", "#fff")
  .attr("stroke-width", 2.4)
  .attr("stroke-linejoin", "round");

// Ceuta, Melilla
svg.append("g").selectAll("circle").data(cityNames).join("circle")
  .attr("cx", (d, i) => lonMain(cityLon[i]))
  .attr("cy", (d, i) => latMain(cityLat[i]))
  .attr("r", 13)
  .attr("fill", noDataFill);
const cityLabels = svg.append("g").attr("text-anchor", "middle").selectAll("g").data(cityNames).join("g")
  .attr("transform", (d, i) => `translate(${lonMain(cityLon[i])},${latMain(cityLat[i]) + 49})`);
cityLabels.append("text").attr("y", 6).attr("font-size", 17.5).attr("fill", "#555").text(d => d);
cityLabels.append("text").attr("y", 28).attr("font-size", 14.3).attr("fill", "#888").text("Sin empresas");

// province labels
const labels = svg.append("g").attr("text-anchor", "middle").selectAll("g").data(features).join("g")
  .attr("transform", d => {
    const p = d.properties;
    return p.inset ? `translate(${lonInset(p.lon)},${latInset(p.lat)})` : `translate(${lonMain(p.lon)},${latMain(p.lat)})`;
  });
labels.each(function(d) {
  const g = d3.select(this), p = d.properties;
  if (p.rho === null) {
    g.append("text").attr("y", 7).attr("font-size", 20.4).attr("fill", "#555").text(p.name);
    g.append("text").attr("y", 29).attr("font-size", 16.5).attr("fill", "#888").text("Sin empresas");
    return;
  }
  g.append("text").attr("y", 7).attr("font-size", 20).attr("font-weight", "bold").attr("fill", "#111").text(p.name);
  g.append("text").attr("y", 34).attr("font-size", 17.5).attr("fill", "#222").text(`Empresas: ${p.companies}`);
  const rho = g.append("text").attr("y", 53).attr("font-size", 17.5).attr("fill", "#222");
  rho.append("tspan").attr("font-style", "italic").text("ρ");
  rho.append("tspan").attr("font-style", "italic").attr("font-size", 12.5).attr("dy", 3).text("rel");
  rho.append("tspan").attr("dy", -3).text(`: ${formatRho(p.rho)}`);
});

// title block
svg.append("text").attr("x", 1859).attr("y", 90).attr("text-anchor", "middle")
  .attr("font-size", 45.6).attr("font-weight", "bold").attr("fill", "#000")
  .text("Distribucion geografica ponderada por densidad - Cluster: 1194");
const note1 = svg.append("text").attr("x", 1860).attr("y", 175).attr("text-anchor", "middle").attr("font-size", 22.85).attr("font-style", "italic");
note1.append("tspan").text("ρ");
note1.append("tspan").attr("font-size", 16).attr("dy", 4).text("rel");
note1.append("tspan").attr("dy", -4).text(": Densidad relativa respecto a la media nacional. Ej: +0.10 significa un 10% de sobreponderación.");
const note2 = svg.append("text").attr("x", 1860).attr("y", 204).attr("text-anchor", "middle").attr("font-size", 22.85).attr("font-style", "italic");
note2.append("tspan").text("(Si una provincia tiene 50 empresas con ρ");
note2.append("tspan").attr("font-size", 16).attr("dy", 4).text("rel");
note2.append("tspan").attr("dy", -4).text(" +0.10, tiene un exceso de 5 empresas respecto a su cuota esperada).");

// left panel
const panelX = 160;
const panel = svg.append("g");
const textBlock = (lines, y0, step, size, attrs) => panel.append("g").selectAll("text").data(lines).join("text")
  .attr("x", panelX).attr("y", (d, i) => y0 + i * step).attr("font-size", size)
  .attr("font-weight", attrs.weight || "normal").attr("font-style", attrs.style || "normal")
  .attr("fill", attrs.fill || "#000").text(d => d);
textBlock(clusterTitle, 408, 37, 33, { weight: "bold" });
textBlock(clusterSummary, 530, 32, 27.7, {});
textBlock(["Total empresas: 145"], 756, 0, 30.4, { weight: "bold" });
panel.append("line").attr("x1", 159).attr("x2", 764).attr("y1", 785).attr("y2", 785).attr("stroke", "#aaa").attr("stroke-width", 3);
textBlock(["Top 3 empresas (empleados)"], 860, 0, 25, {});
textBlock(topCompanies, 917, 42.5, 22.7, { style: "italic" });
textBlock(["Principales keywords"], 1100, 0, 25.4, { weight: "bold" });
textBlock(keywordLines, 1141, 27, 22.8, {});
textBlock(["Descripción del cluster"], 1410, 0, 25.4, { weight: "bold" });
textBlock(descriptionLines, 1450, 26.5, 22.8, { fill: "#444" });

// legend
const legend = svg.append("g");
legend.append("text").attr("x", 3225).attr("y", 1992).attr("font-size", 25.3).text("Referencias de colores");
const legendStep = d3.scalePoint(d3.range(legendLabels.length), [2044, 2044 + 38.7 * 6]);
const legendRows = legend.selectAll("g").data(legendLabels).join("g")
  .attr("transform", (d, i) => `translate(3225,${legendStep(i)})`);
legendRows.append("rect").attr("width", 49).attr("height", 15).attr("fill", (d, i) => legendColors[i]);
legendRows.append("text").attr("x", 71).attr("y", 16).attr("font-size", 25.3).text(d => d);
</script>
</body>
</html>
